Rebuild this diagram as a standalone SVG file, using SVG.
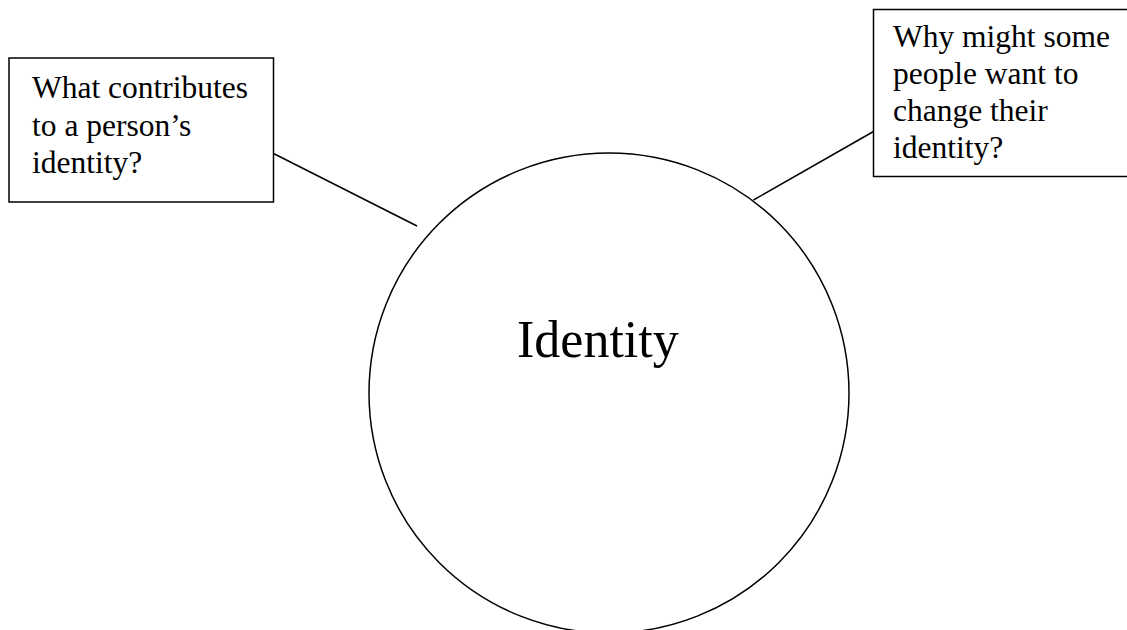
<svg xmlns="http://www.w3.org/2000/svg" width="1127" height="630" viewBox="0 0 1127 630">
<style>
.box{fill:#fff;stroke:#000;stroke-width:1.5}
.ln{stroke:#000;stroke-width:1.5;fill:none}
.t{font-family:"Liberation Serif","Times New Roman",serif;font-size:31.5px;fill:#000}
.big{font-family:"Liberation Serif","Times New Roman",serif;font-size:52px;fill:#000}
</style>
<rect width="1127" height="630" fill="#fff"/>
<g id="connectors">
<line class="ln" x1="273.5" y1="153.5" x2="417" y2="226"/>
<line class="ln" x1="873.5" y1="131.5" x2="753.5" y2="200"/>
</g>
<g id="identity">
<circle class="ln" cx="609" cy="393" r="240"/>
<text class="big" x="517" y="357">Identity</text>
</g>
<g id="q1">
<rect class="box" x="9" y="58" width="264.5" height="144"/>
<text class="t"><tspan x="32" y="98">What contributes</tspan><tspan x="32" y="135.5">to a person’s</tspan><tspan x="32" y="173">identity?</tspan></text>
</g>
<g id="q2">
<rect class="box" x="873.5" y="9.5" width="270" height="167"/>
<text class="t"><tspan x="893" y="47">Why might some</tspan><tspan x="893" y="84">people want to</tspan><tspan x="893" y="121">change their</tspan><tspan x="893" y="158">identity?</tspan></text>
</g>
</svg>
